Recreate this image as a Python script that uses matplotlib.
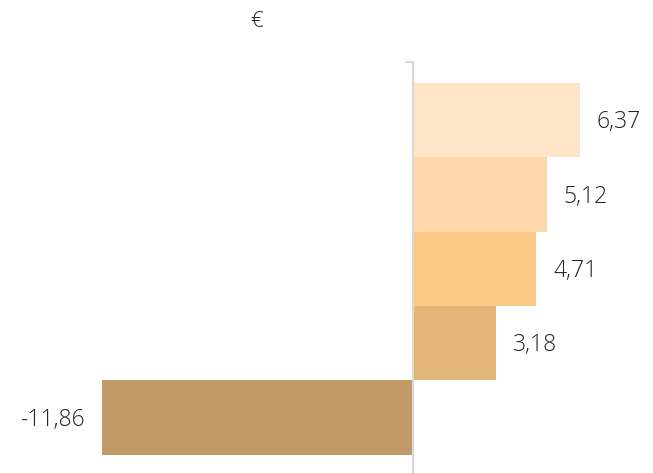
import matplotlib
matplotlib.use('Agg')
import matplotlib.pyplot as plt

values = [-11.86, 3.18, 4.71, 5.12, 6.37]
colors = ['#c19a67', '#e2b677', '#fdc987', '#fed8a8', '#ffe5c8']
unit = '€'

plt.rcParams['font.family'] = ['Open Sans', 'DejaVu Sans']

fig = plt.figure(figsize=(6.53, 4.73), dpi=100)
W, H = 653, 473
zero_px = 413
px_per_unit = 26.2
ax = fig.add_axes([0, 1 / H, 1, (H - 62 - 1) / H])

pos = list(range(len(values)))
ax.barh(pos, values, height=1.0, color=colors, zorder=1)

ax.set_xlim(-zero_px / px_per_unit, (W - zero_px) / px_per_unit)
ax.set_ylim(-0.73, 4.78)

for s in ['top', 'right', 'bottom']:
    ax.spines[s].set_visible(False)
ax.spines['left'].set_position(('data', 0))
ax.spines['left'].set_color('#d9d9d9')
ax.spines['left'].set_linewidth(1.6)
ax.spines['left'].set_zorder(3)
ax.set_xticks([])
ax.set_yticks([4.78])
ax.set_yticklabels([])
ax.tick_params(axis='y', length=6, width=1.6, color='#d9d9d9', direction='out')

txt_col = '#252423'
for p, v in zip(pos, values):
    txt = f'{v:.2f}'.replace('.', ',')
    if v >= 0:
        ax.annotate(txt, (v, p), xytext=(12, -1.5), textcoords='offset points',
                    ha='left', va='center', fontsize=16.5, color=txt_col,
                    fontweight='light')
    else:
        ax.annotate(txt, (v, p), xytext=(-12, -1.5), textcoords='offset points',
                    ha='right', va='center', fontsize=16.5, color=txt_col,
                    fontweight='light')

fig.text(257 / W, 1 - 21 / H, unit, ha='center', va='center', fontsize=16,
         color=txt_col, fontweight='light')

fig.savefig('out.png', dpi=100)
